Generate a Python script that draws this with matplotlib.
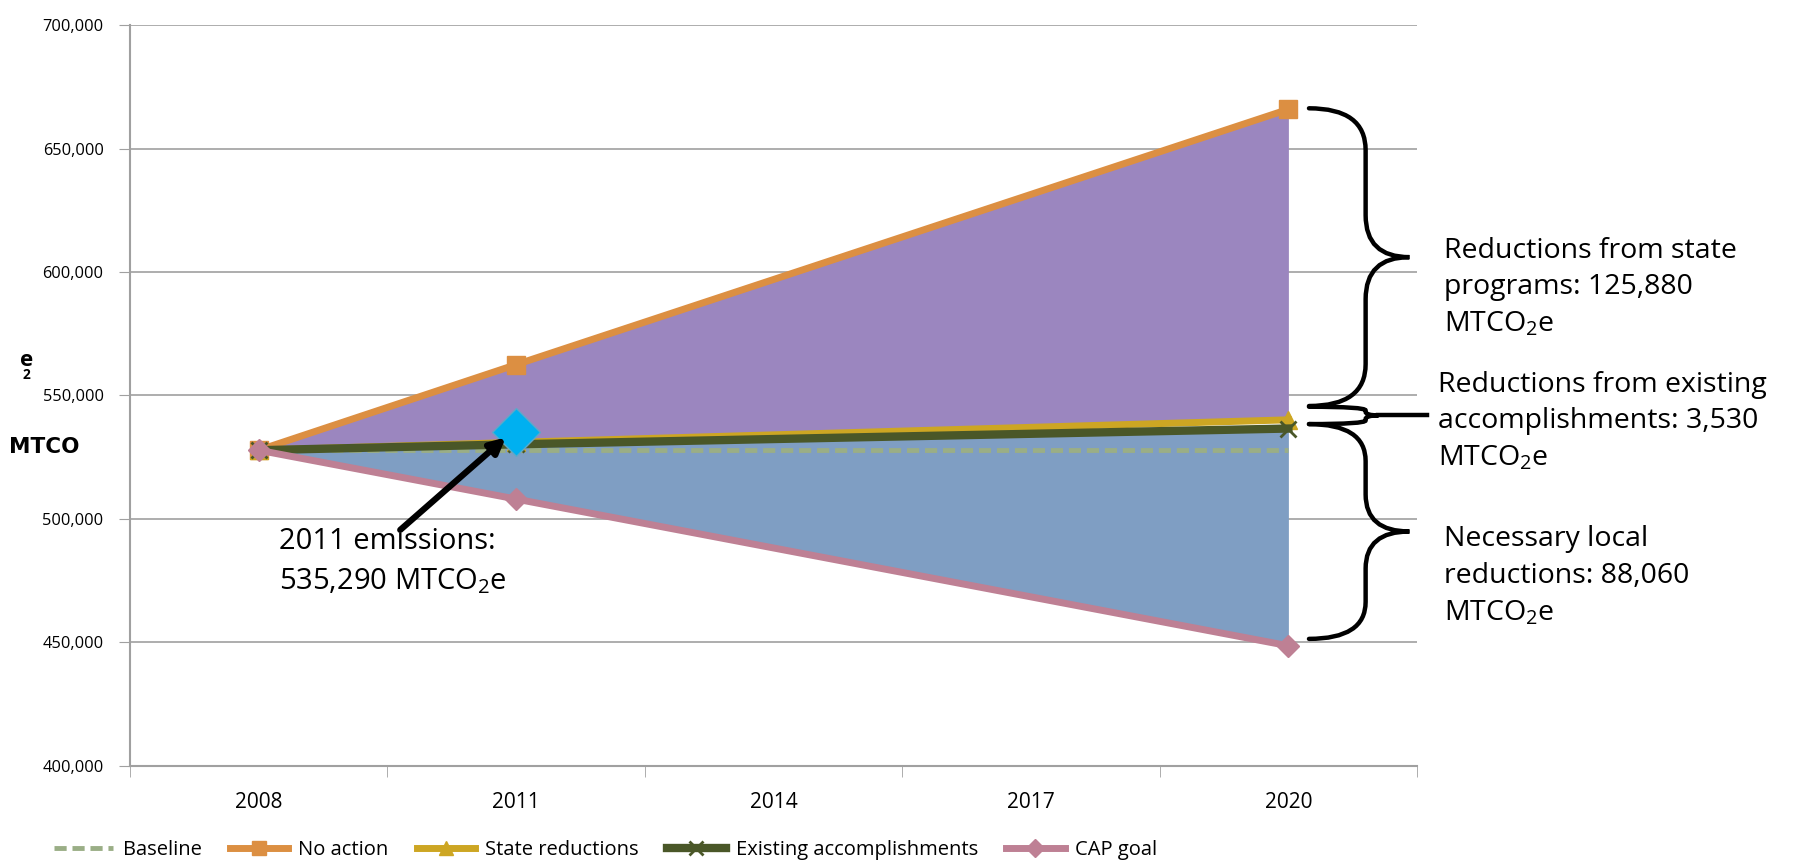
import matplotlib
matplotlib.use("Agg")
import matplotlib.pyplot as plt
from matplotlib.path import Path
from matplotlib.patches import PathPatch

# category axis and the points that carry values
categories = ["2008", "2011", "2014", "2017", "2020"]
point_years = ["2008", "2011", "2020"]

baseline = [527800, 527800, 527800]
no_action = [527800, 562500, 666000]
state_reductions = [527800, 531000, 540120]
existing = [527800, 530200, 536590]
cap_goal = [527800, 508000, 448530]

emissions_2011 = 535290

yticks = [400000, 450000, 500000, 550000, 600000, 650000, 700000]

brace_labels = [
    "Reductions from state\nprograms: 125,880\nMTCO$_2$e",
    "Reductions from existing\naccomplishments: 3,530\nMTCO$_2$e",
    "Necessary local\nreductions: 88,060\nMTCO$_2$e",
]

plt.rcParams["font.family"] = ["Open Sans", "DejaVu Sans"]
plt.rcParams["mathtext.fontset"] = "custom"
plt.rcParams["mathtext.rm"] = "Open Sans"

fig = plt.figure(figsize=(17.97, 8.64), dpi=100)
ax = fig.add_axes([0.0723, 0.114, 0.7163, 0.8566])

x = [categories.index(y) for y in point_years]

# shaded areas
ax.fill_between(x, no_action, state_reductions, color="#9B86BF", lw=0, zorder=1)
ax.fill_between(x, existing, cap_goal, color="#7F9EC3", lw=0, zorder=1)

ax.plot(x, baseline, color="#9AAE86", lw=3.5, ls=(0, (2.5, 1.2)), label="Baseline", zorder=3)
ax.plot(x, no_action, color="#DC8F42", lw=5, marker="s", ms=13, label="No action", zorder=4)
ax.plot(x, state_reductions, color="#CDA623", lw=5, marker="^", ms=13, label="State reductions", zorder=5)
ax.plot(x, existing, color="#4A5728", lw=6, marker="x", ms=12, mew=2,
        label="Existing accomplishments", zorder=6)
ax.plot(x, cap_goal, color="#BE8094", lw=5, marker="D", ms=11, label="CAP goal", zorder=7)

# 2011 emissions point
ax.plot([categories.index("2011")], [emissions_2011], marker="D", ms=24, color="#00B0F0",
        mec="#5FA8C8", mew=1, ls="none", zorder=9)
ax.annotate("", xy=(0.96, 533000), xytext=(0.55, 495500),
            arrowprops=dict(arrowstyle="-|>,head_length=0.9,head_width=0.45",
                            color="black", lw=4.5, shrinkA=0, shrinkB=0), zorder=10)
ax.text(0.08, 482500, "2011 emissions:\n535,290 MTCO$_2$e", fontsize=21,
        va="center", ha="left", linespacing=1.45)

ax.set_xlim(-0.5, 4.5)
ax.set_ylim(400000, 700000)
ax.set_yticks(yticks)
ax.set_yticklabels([f"{v:,}" for v in yticks], fontsize=11.8)
ax.set_xticks(range(len(categories)))
ax.set_xticklabels(categories, fontsize=15)
ax.set_xticks([i + 0.5 for i in range(-1, len(categories))], minor=True)
ax.tick_params(axis="x", which="major", length=0, pad=19)
ax.tick_params(axis="x", which="minor", length=8, color="#A0A0A0")
ax.tick_params(axis="y", length=8, color="#A0A0A0", pad=11)
ax.grid(axis="y", color="#A0A0A0", lw=1.2)
ax.set_axisbelow(True)
for s in ["top", "right"]:
    ax.spines[s].set_visible(False)
for s in ["left", "bottom"]:
    ax.spines[s].set_color("#A0A0A0")
    ax.spines[s].set_linewidth(1.5)


def brace(ax, y_top, y_bot, x0, xs, xp, r, tail=None):
    ym = (y_top + y_bot) / 2
    verts = [(x0, y_top), (xs, y_top), (xs, y_top - r),
             (xs, ym + r), (xs, ym), (xp, ym),
             (xs, ym), (xs, ym - r),
             (xs, y_bot + r), (xs, y_bot), (x0, y_bot)]
    codes = [Path.MOVETO, Path.CURVE3, Path.CURVE3,
             Path.LINETO, Path.CURVE3, Path.CURVE3,
             Path.CURVE3, Path.CURVE3,
             Path.LINETO, Path.CURVE3, Path.CURVE3]
    p = PathPatch(Path(verts, codes), fc="none", ec="black", lw=3.2,
                  clip_on=False, zorder=10, capstyle="round")
    ax.add_patch(p)
    if tail is not None:
        ax.plot([xp, tail], [ym, ym], color="black", lw=3.2, clip_on=False, zorder=10)


brace(ax, no_action[-1] + 400, state_reductions[-1] + 5600, 4.08, 4.30, 4.47, 17000)
brace(ax, state_reductions[-1] + 5300, existing[-1] + 1800, 4.08, 4.30, 4.35, 1500, tail=4.54)
brace(ax, existing[-1] + 1800, cap_goal[-1] + 2800, 4.08, 4.30, 4.47, 15000)

fig.text(0.8037, 0.667, brace_labels[0], fontsize=20.5, va="center", linespacing=1.4)
fig.text(0.8005, 0.512, brace_labels[1], fontsize=20.5, va="center", linespacing=1.4)
fig.text(0.8037, 0.333, brace_labels[2], fontsize=20.5, va="center", linespacing=1.4)

# broken axis title as in the source
fig.text(0.005, 0.483, "MTCO", fontsize=15.5, fontweight="bold", va="center",
         family="DejaVu Sans")
fig.text(0.011, 0.583, "e", fontsize=16, fontweight="bold", va="center")
fig.text(0.0125, 0.566, "2", fontsize=10, fontweight="bold", va="center")

leg = fig.legend(loc="center", bbox_to_anchor=(0.337, 0.016), ncol=5, frameon=False,
                 handlelength=2.9, handletextpad=0.5, columnspacing=1.4,
                 prop={"size": 14.5}, markerscale=0.8)

fig.savefig("out.png", dpi=100)
